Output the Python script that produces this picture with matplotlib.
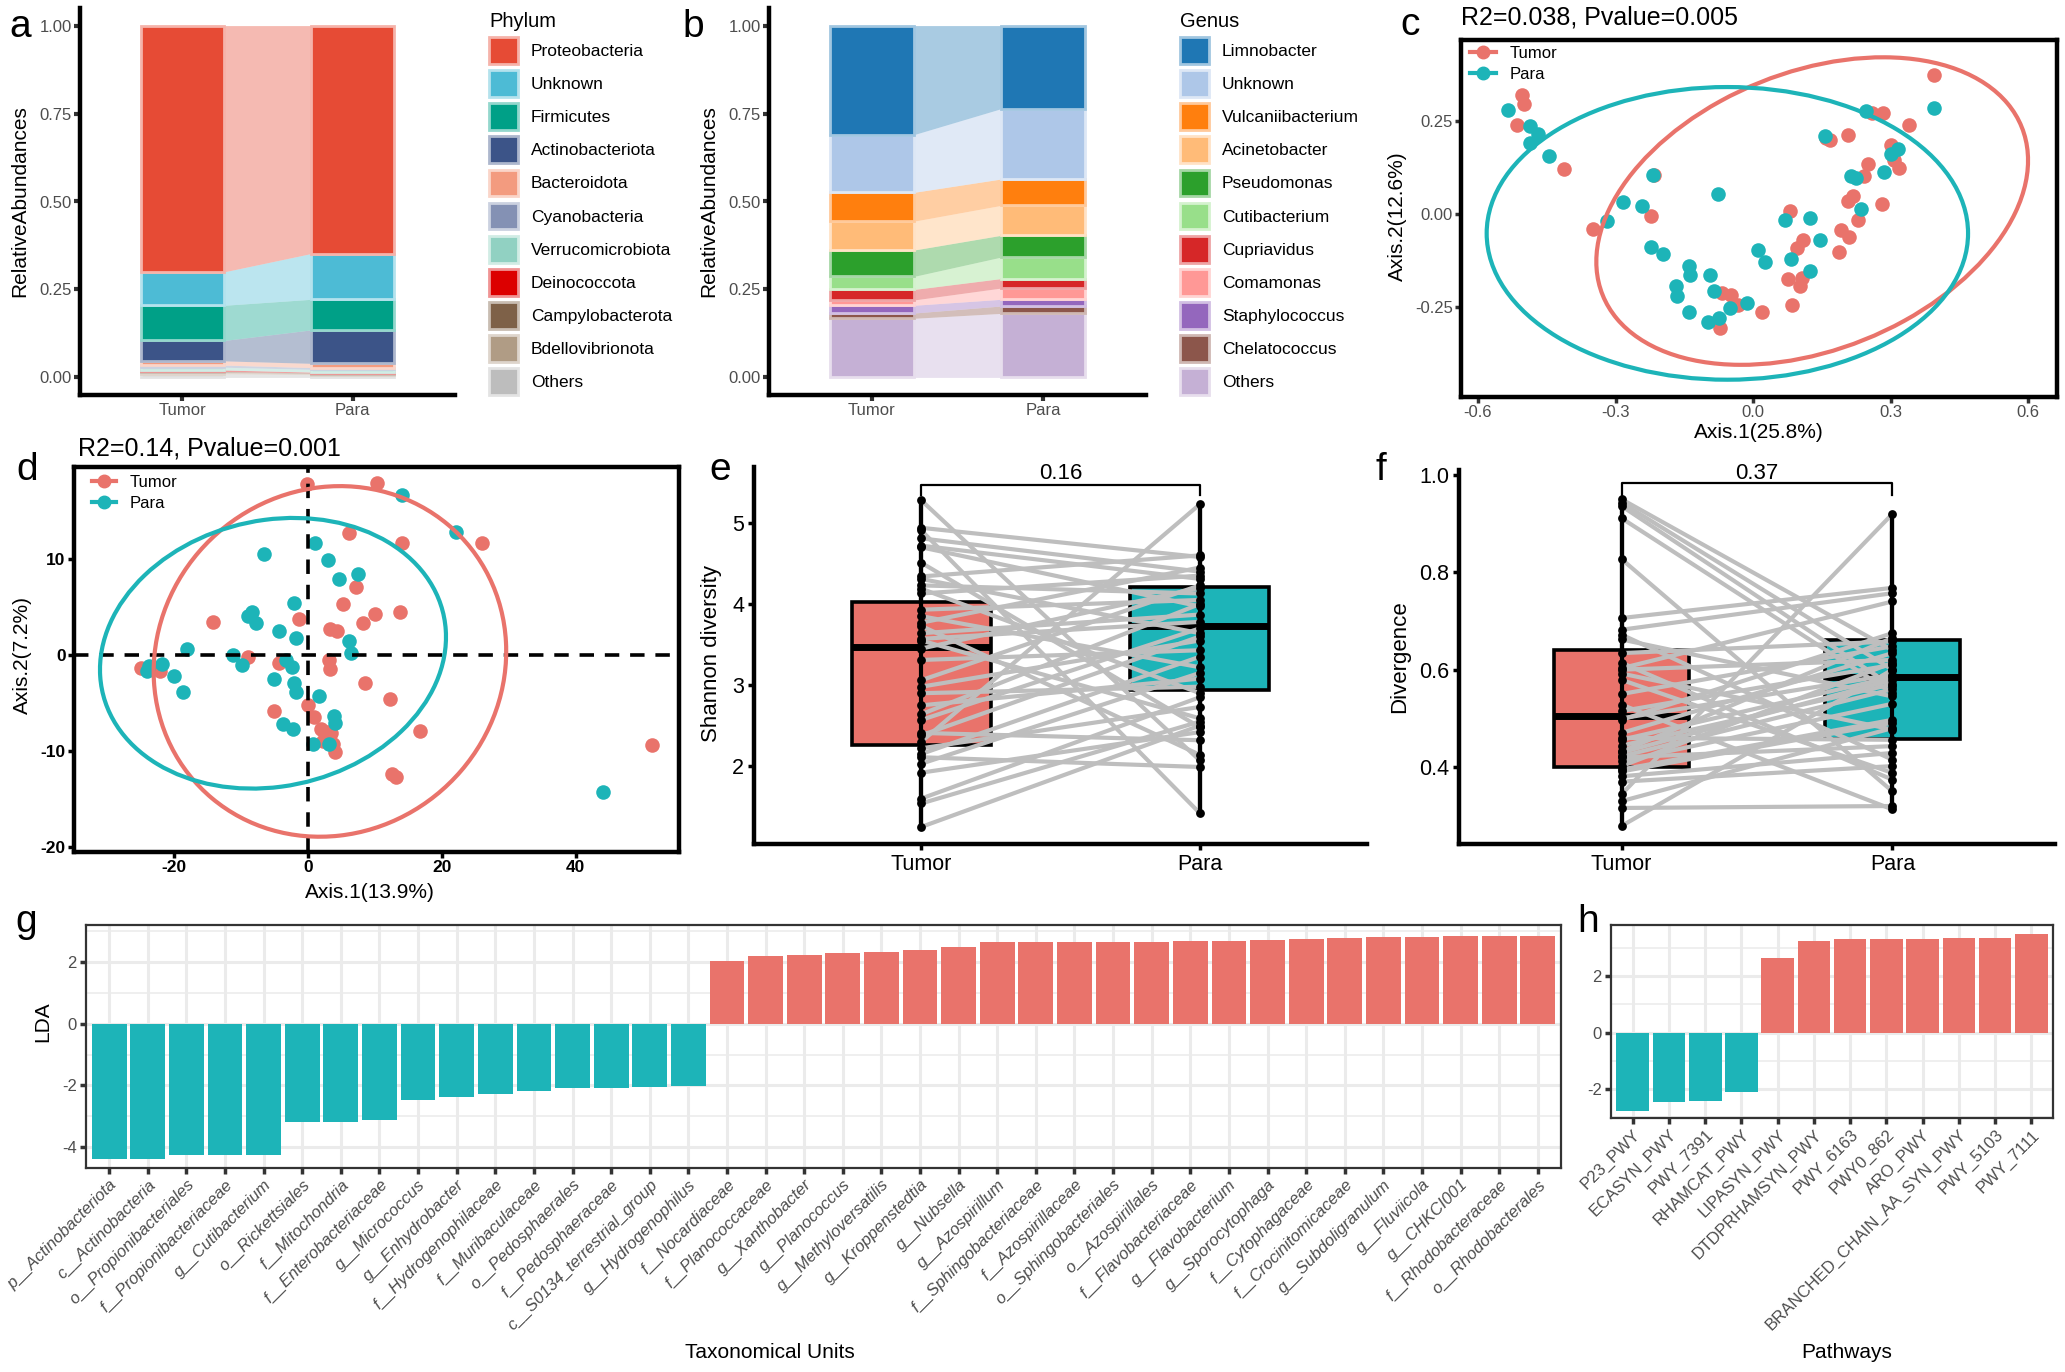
import numpy as np
import matplotlib
matplotlib.use('Agg')
import matplotlib.pyplot as plt
from matplotlib.patches import Ellipse, Patch
from matplotlib.lines import Line2D
from matplotlib.colors import to_rgb

plt.rcParams['font.family'] = ['Liberation Sans', 'DejaVu Sans']
plt.rcParams['axes.unicode_minus'] = False

# ---------------- data ----------------
groups = ['Tumor', 'Para']

phylum_names = ['Proteobacteria', 'Unknown', 'Firmicutes', 'Actinobacteriota', 'Bacteroidota',
                'Cyanobacteria', 'Verrucomicrobiota', 'Deinococcota', 'Campylobacterota',
                'Bdellovibrionota', 'Others']
phylum_tumor = [0.700, 0.095, 0.100, 0.058, 0.012, 0.006, 0.008, 0.004, 0.003, 0.004, 0.010]
phylum_para = [0.648, 0.130, 0.087, 0.095, 0.012, 0.005, 0.008, 0.002, 0.002, 0.003, 0.008]
phylum_colors = ['#E64B35', '#4DBBD5', '#00A087', '#3C5488', '#F39B7F', '#8491B4',
                 '#91D1C2', '#DC0000', '#7E6148', '#B09C85', '#BDBDBD']

genus_names = ['Limnobacter', 'Unknown', 'Vulcaniibacterium', 'Acinetobacter', 'Pseudomonas',
               'Cutibacterium', 'Cupriavidus', 'Comamonas', 'Staphylococcus', 'Chelatococcus', 'Others']
genus_tumor = [0.310, 0.164, 0.082, 0.082, 0.075, 0.037, 0.030, 0.015, 0.022, 0.015, 0.168]
genus_para = [0.236, 0.200, 0.075, 0.085, 0.062, 0.061, 0.027, 0.032, 0.019, 0.021, 0.182]
genus_colors = ['#1F77B4', '#AEC7E8', '#FF7F0E', '#FFBB78', '#2CA02C', '#98DF8A',
                '#D62728', '#FF9896', '#9467BD', '#8C564B', '#C5B0D5']

c_tumor_x = [-0.503, -0.500, -0.514, -0.413, -0.348, -0.216, -0.222, 0.394, 0.259, 0.283,
             0.340, 0.207, 0.167, 0.302, 0.251, 0.241, 0.319, 0.308, 0.219, 0.207,
             0.281, 0.229, 0.191, 0.210, 0.188, 0.081, 0.108, 0.096, 0.076, 0.106,
             0.103, 0.086, 0.019, -0.067, -0.048, -0.033, -0.073, 0.159]
c_tumor_y = [0.321, 0.297, 0.240, 0.121, -0.040, 0.106, -0.004, 0.375, 0.273, 0.272,
             0.240, 0.213, 0.200, 0.185, 0.134, 0.101, 0.124, 0.146, 0.049, 0.034,
             0.028, -0.017, -0.042, -0.062, -0.103, 0.007, -0.071, -0.091, -0.175, -0.172,
             -0.193, -0.244, -0.264, -0.212, -0.217, -0.244, -0.306, 0.204]
c_para_x = [-0.534, -0.486, -0.470, -0.486, -0.445, 0.394, 0.246, 0.157, 0.317, 0.300,
            0.286, 0.214, 0.224, 0.235, -0.219, -0.076, -0.283, -0.243, -0.319, 0.070,
            0.124, 0.146, -0.222, -0.197, 0.010, 0.026, 0.083, 0.124, -0.140, -0.138,
            -0.093, -0.167, -0.165, -0.086, -0.014, -0.050, -0.140, -0.098, -0.074]
c_para_y = [0.280, 0.236, 0.216, 0.191, 0.155, 0.285, 0.276, 0.209, 0.175, 0.162,
            0.113, 0.101, 0.097, 0.013, 0.106, 0.055, 0.032, 0.022, -0.020, -0.015,
            -0.011, -0.071, -0.089, -0.107, -0.098, -0.129, -0.121, -0.154, -0.141, -0.163,
            -0.163, -0.194, -0.221, -0.208, -0.238, -0.253, -0.264, -0.291, -0.280]
# ellipse parameters (Tumor, Para)
c_ell_cx = [0.129, -0.056]
c_ell_cy = [0.008, -0.052]
c_ell_w = [1.03, 1.05]
c_ell_h = [0.714, 0.787]
c_ell_angle = [34.2, 0.0]

d_tumor_x = [-0.1, 10.3, 6.2, 14.0, 26.0, 7.2, 5.3, 10.0, 13.7, 8.2,
             -1.3, -14.1, 3.3, 4.3, -9.0, -4.3, 3.2, 3.3, -24.9, -22.0,
             8.5, 12.3, 0.1, 0.9, -5.0, 1.9, 3.5, 2.3, 4.1, 16.7,
             12.5, 13.2, 51.3, 3.7, 3.0]
d_tumor_y = [17.8, 17.9, 12.7, 11.7, 11.7, 7.1, 5.3, 4.3, 4.5, 3.4,
             3.8, 3.5, 2.7, 2.5, -0.2, -0.8, -0.5, -1.4, -1.3, -1.6,
             -2.9, -4.6, -5.2, -6.4, -5.8, -7.7, -8.1, -8.9, -10.1, -7.9,
             -12.4, -12.7, -9.4, -9.2, -8.0]
d_para_x = [14.1, 22.1, 1.0, -6.5, 3.0, 7.5, 4.7, -2.1, -8.3, -9.0,
            -7.8, -4.3, -1.8, 6.2, 6.5, -18.0, -11.2, -9.8, -3.3, -2.3,
            -23.7, -21.7, -24.0, -20.0, -18.7, -5.1, -2.0, -1.8, 1.7, 3.9,
            4.1, -3.7, -2.2, 0.7, 3.2, 44.0]
d_para_y = [16.7, 12.8, 11.7, 10.5, 9.9, 8.5, 7.9, 5.4, 4.5, 4.1,
            3.4, 2.5, 1.8, 1.5, 0.2, 0.6, 0.0, -1.0, -0.5, -1.2,
            -1.1, -0.9, -1.6, -2.2, -3.8, -2.5, -2.9, -3.8, -4.3, -6.3,
            -7.1, -7.2, -7.7, -9.2, -9.3, -14.2]
d_ell_cx = [3.3, -5.2]
d_ell_cy = [-0.65, 0.2]
d_ell_w = [52.7, 51.8]
d_ell_h = [36.4, 27.9]
d_ell_angle = [4.4, 5.3]

shannon_tumor = [5.28, 4.94, 4.91, 4.81, 4.72, 4.70, 4.51, 4.34, 4.31, 4.23,
                 4.19, 4.13, 3.93, 3.85, 3.77, 3.73, 3.64, 3.57, 3.55, 3.45,
                 3.31, 3.06, 2.98, 2.90, 2.75, 2.64, 2.57, 2.41, 2.38, 2.30,
                 2.22, 2.15, 2.11, 2.03, 1.92, 1.60, 1.54, 1.25]
shannon_para = [2.07, 4.58, 1.42, 4.40, 4.31, 3.97, 2.48, 4.60, 3.64, 4.13,
                2.90, 4.35, 4.05, 3.22, 4.45, 2.14, 3.87, 3.78, 2.59, 4.20,
                3.43, 4.23, 3.55, 2.98, 3.08, 4.00, 3.70, 2.32, 3.60, 5.23,
                2.73, 3.35, 1.99, 3.15, 2.42, 2.85, 2.55, 2.50]
shannon_box_q1 = [2.26, 2.94]
shannon_box_med = [3.47, 3.73]
shannon_box_q3 = [4.03, 4.21]
shannon_p = '0.16'

div_tumor = [0.950, 0.943, 0.936, 0.911, 0.827, 0.706, 0.682, 0.672, 0.662, 0.634,
             0.614, 0.603, 0.600, 0.592, 0.579, 0.550, 0.528, 0.515, 0.500, 0.497,
             0.470, 0.460, 0.456, 0.444, 0.432, 0.430, 0.422, 0.420, 0.412, 0.402,
             0.395, 0.391, 0.381, 0.370, 0.344, 0.330, 0.316, 0.279]
div_para = [0.640, 0.600, 0.566, 0.552, 0.350, 0.768, 0.757, 0.415, 0.545, 0.658,
            0.374, 0.740, 0.620, 0.477, 0.388, 0.648, 0.313, 0.610, 0.590, 0.675,
            0.634, 0.456, 0.585, 0.570, 0.665, 0.579, 0.560, 0.443, 0.530, 0.614,
            0.497, 0.491, 0.429, 0.402, 0.920, 0.480, 0.320, 0.600]
div_box_q1 = [0.400, 0.458]
div_box_med = [0.504, 0.585]
div_box_q3 = [0.641, 0.660]
div_p = '0.37'

g_taxa = ['p__Actinobacteriota', 'c__Actinobacteria', 'o__Propionibacteriales',
          'f__Propionibacteriaceae', 'g__Cutibacterium', 'o__Rickettsiales', 'f__Mitochondria',
          'f__Enterobacteriaceae', 'g__Micrococcus', 'g__Enhydrobacter', 'f__Hydrogenophilaceae',
          'f__Muribaculaceae', 'o__Pedosphaerales', 'f__Pedosphaeraceae',
          'c__S0134_terrestrial_group', 'g__Hydrogenophilus', 'f__Nocardiaceae',
          'f__Planococcaceae', 'g__Xanthobacter', 'g__Planococcus', 'g__Methyloversatilis',
          'g__Kroppenstedtia', 'g__Nubsella', 'g__Azospirillum', 'f__Sphingobacteriaceae',
          'f__Azospirillaceae', 'o__Sphingobacteriales', 'o__Azospirillales',
          'f__Flavobacteriaceae', 'g__Flavobacterium', 'g__Sporocytophaga', 'f__Cytophagaceae',
          'f__Crocinitomicaceae', 'g__Subdoligranulum', 'g__Fluviicola', 'g__CHKCI001',
          'f__Rhodobacteraceae', 'o__Rhodobacterales']
g_lda = [-4.39, -4.39, -4.27, -4.27, -4.27, -3.18, -3.18, -3.12, -2.47, -2.37,
         -2.28, -2.18, -2.10, -2.08, -2.04, -2.01, 2.04, 2.20, 2.24, 2.29,
         2.32, 2.40, 2.49, 2.64, 2.64, 2.66, 2.66, 2.66, 2.67, 2.68,
         2.70, 2.74, 2.78, 2.80, 2.81, 2.85, 2.85, 2.85]

h_paths = ['P23_PWY', 'ECASYN_PWY', 'PWY_7391', 'RHAMCAT_PWY', 'LIPASYN_PWY',
           'DTDPRHAMSYN_PWY', 'PWY_6163', 'PWY0_862', 'ARO_PWY',
           'BRANCHED_CHAIN_AA_SYN_PWY', 'PWY_5103', 'PWY_7111']
h_lda = [-2.78, -2.45, -2.44, -2.12, 2.63, 3.25, 3.30, 3.31, 3.33, 3.34, 3.35, 3.50]

# ---------------- styling ----------------
COL_T = '#E9736B'
COL_P = '#1DB4B8'
GRAY_TXT = '#4D4D4D'

W, H = 2065, 1372
DPI = 100
fig = plt.figure(figsize=(W / DPI, H / DPI), dpi=DPI)
fig.patch.set_facecolor('white')


def add_ax(rect):
    l, t, r, b = rect
    return fig.add_axes([l / W, 1 - b / H, (r - l) / W, (b - t) / H])


def place_ylabel(ax, rect, text, px, py, **kw):
    l, t, r, b = rect
    ax.set_ylabel(text, va='center', ha='center', rotation=90, **kw)
    ax.yaxis.set_label_coords((px - l) / (r - l), (b - py) / (b - t))


def place_xlabel(ax, rect, text, px, py, **kw):
    l, t, r, b = rect
    ax.set_xlabel(text, va='center', ha='center', **kw)
    ax.xaxis.set_label_coords((px - l) / (r - l), (b - py) / (b - t))


def panel_label(s, px, py):
    fig.text(px / W, 1 - py / H, s, fontsize=28, ha='left', va='baseline')


def lighten(c, a=0.42):
    r = np.array(to_rgb(c))
    return tuple(1 - a * (1 - r))


# ---------------- a & b: alluvial ----------------
def alluvial(ax, names, tumor, para, colors, width=0.49):
    x = np.array([1.0, 2.0])
    vals = np.array([tumor, para])
    bottoms = np.zeros(2)
    for i in range(len(names) - 1, -1, -1):
        v = vals[:, i]
        c = colors[i]
        ax.fill_between([1 + width / 2, 2 - width / 2], bottoms, bottoms + v,
                        color=c, alpha=0.38, lw=0, zorder=1)
        ax.bar(x, v, width=width, bottom=bottoms, color=c, edgecolor=lighten(c),
               linewidth=2.0, zorder=2)
        bottoms = bottoms + v
    ax.set_xlim(0.4, 2.6)
    ax.set_ylim(-0.05, 1.05)
    ax.set_xticks([1, 2])
    ax.set_xticklabels(groups)
    ax.set_yticks([0, 0.25, 0.5, 0.75, 1.0])
    ax.set_yticklabels(['0.00', '0.25', '0.50', '0.75', '1.00'])
    for s in ['top', 'right']:
        ax.spines[s].set_visible(False)
    for s in ['left', 'bottom']:
        ax.spines[s].set_linewidth(3.2)
    ax.tick_params(length=4, width=3, color='#333333', labelcolor=GRAY_TXT,
                   labelsize=12, pad=2)


def alluvial_legend(ax, names, colors, title, left_px):
    handles = [Patch(facecolor=c, edgecolor=lighten(c), linewidth=2.0) for c in colors]
    ax.legend(handles, names, title=title, loc='upper left',
              bbox_to_anchor=(left_px / W, 1 - 12 / H), bbox_transform=fig.transFigure,
              frameon=False, fontsize=12.5, title_fontsize=14.5, handlelength=1.67,
              handleheight=2.0, labelspacing=0.36, handletextpad=0.75,
              borderpad=0, borderaxespad=0, alignment='left')


rect_a = (80, 8, 455, 395)
ax_a = add_ax(rect_a)
alluvial(ax_a, phylum_names, phylum_tumor, phylum_para, phylum_colors)
alluvial_legend(ax_a, phylum_names, phylum_colors, 'Phylum', 489)
place_ylabel(ax_a, rect_a, 'RelativeAbundances', 20, 201, fontsize=15)
panel_label('a', 9, 37)

rect_b = (769, 8, 1146, 395)
ax_b = add_ax(rect_b)
alluvial(ax_b, genus_names, genus_tumor, genus_para, genus_colors)
alluvial_legend(ax_b, genus_names, genus_colors, 'Genus', 1180)
place_ylabel(ax_b, rect_b, 'RelativeAbundances', 709, 201, fontsize=15)
panel_label('b', 682, 37)


# ---------------- c & d: PCoA ----------------
def pcoa(ax, tx, ty, px_, py_, ecx, ecy, ew, eh, eang):
    ax.scatter(tx, ty, s=110, color=COL_T, lw=0, zorder=3)
    ax.scatter(px_, py_, s=110, color=COL_P, lw=0, zorder=4)
    cols = [COL_T, COL_P]
    for i in range(2):
        e = Ellipse((ecx[i], ecy[i]), ew[i], eh[i], angle=eang[i], fill=False,
                    edgecolor=cols[i], linewidth=3.0, zorder=6)
        ax.add_patch(e)
    for s in ax.spines.values():
        s.set_linewidth(3.2)
        s.set_color('black')
    handles = [Line2D([], [], color=COL_T, lw=3, marker='o', markersize=9),
               Line2D([], [], color=COL_P, lw=3, marker='o', markersize=9)]
    return handles


rect_c = (1461, 40, 2057, 397)
ax_c = add_ax(rect_c)
h_c = pcoa(ax_c, c_tumor_x, c_tumor_y, c_para_x, c_para_y,
           c_ell_cx, c_ell_cy, c_ell_w, c_ell_h, c_ell_angle)
ax_c.set_xlim(-0.637, 0.663)
ax_c.set_ylim(-0.492, 0.468)
ax_c.set_xticks([-0.6, -0.3, 0.0, 0.3, 0.6])
ax_c.set_xticklabels(['-0.6', '-0.3', '0.0', '0.3', '0.6'])
ax_c.set_yticks([-0.25, 0.0, 0.25])
ax_c.set_yticklabels(['-0.25', '0.00', '0.25'])
ax_c.tick_params(length=4, width=2.5, color='#333333', labelcolor=GRAY_TXT,
                 labelsize=12, pad=2)
ax_c.legend(h_c, groups, loc='upper left', bbox_to_anchor=(9 / 596, 1 - 6 / 357),
            frameon=False, fontsize=12, handlelength=1.55, handletextpad=0.8,
            labelspacing=0.38, borderpad=0, borderaxespad=0)
place_xlabel(ax_c, rect_c, 'Axis.1(25.8%)', 1759, 433, fontsize=15)
place_ylabel(ax_c, rect_c, 'Axis.2(12.6%)', 1397, 216, fontsize=15)
fig.text(1461 / W, 1 - 17 / H, 'R2=0.038, Pvalue=0.005', fontsize=18, ha='left', va='center')
panel_label('c', 1400, 35)

rect_d = (74, 467, 679, 852)
ax_d = add_ax(rect_d)
h_d = pcoa(ax_d, d_tumor_x, d_tumor_y, d_para_x, d_para_y,
           d_ell_cx, d_ell_cy, d_ell_w, d_ell_h, d_ell_angle)
ax_d.axvline(0, color='black', lw=2.6, ls=(0, (4, 3)), zorder=5)
ax_d.axhline(0, color='black', lw=2.6, ls=(0, (4, 3)), zorder=5)
ax_d.set_xlim(-34.9, 55.4)
ax_d.set_ylim(-20.5, 19.6)
ax_d.set_xticks([-20, 0, 20, 40])
ax_d.set_yticks([-20, -10, 0, 10])
ax_d.tick_params(length=4, width=2.5, color='black', labelcolor='black',
                 labelsize=12.5, pad=2)
for lab in ax_d.get_xticklabels() + ax_d.get_yticklabels():
    lab.set_fontweight('bold')
ax_d.legend(h_d, groups, loc='upper left', bbox_to_anchor=(18 / 605, 1 - 8 / 385),
            frameon=False, fontsize=12, handlelength=1.45, handletextpad=0.8,
            labelspacing=0.38, borderpad=0, borderaxespad=0)
place_xlabel(ax_d, rect_d, 'Axis.1(13.9%)', 370, 893, fontsize=15)
place_ylabel(ax_d, rect_d, 'Axis.2(7.2%)', 22, 655, fontsize=15)
fig.text(78 / W, 1 - 449 / H, 'R2=0.14, Pvalue=0.001', fontsize=18, ha='left', va='center')
panel_label('d', 16, 480)


# ---------------- e & f: paired boxplots ----------------
def paired(ax, tumor, para, q1, med, q3, pval, br_top, br_end, txt_y):
    tumor = np.asarray(tumor)
    para = np.asarray(para)
    vals = [tumor, para]
    stats = []
    for i in range(2):
        stats.append(dict(med=med[i], q1=q1[i], q3=q3[i],
                          whislo=vals[i].min(), whishi=vals[i].max(), label=groups[i]))
    bp = ax.bxp(stats, positions=[1, 2], widths=0.5, patch_artist=True,
                showfliers=False, showcaps=False, manage_ticks=False,
                boxprops=dict(edgecolor='black', linewidth=2.6),
                medianprops=dict(color='black', linewidth=5),
                whiskerprops=dict(color='black', linewidth=3), zorder=1)
    for patch, c in zip(bp['boxes'], [COL_T, COL_P]):
        patch.set_facecolor(c)
    n = len(tumor)
    xs = np.vstack([np.ones(n), np.full(n, 2.0)])
    ys = np.vstack([tumor, para])
    ax.plot(xs, ys, color='#BEBEBE', lw=3, zorder=2, solid_capstyle='butt')
    ax.vlines([1, 2], [tumor.min(), para.min()], [tumor.max(), para.max()],
              color='black', lw=3, zorder=3)
    ax.scatter(np.ones(n), tumor, s=40, color='black', zorder=4, lw=0)
    ax.scatter(np.full(n, 2.0), para, s=40, color='black', zorder=4, lw=0)
    ax.plot([1, 1, 2, 2], [br_end, br_top, br_top, br_end], color='black', lw=1.6,
            clip_on=False, zorder=5)
    ax.text(1.5, txt_y, pval, ha='center', va='center', fontsize=16)
    ax.set_xlim(0.4, 2.6)
    ax.set_xticks([1, 2])
    ax.set_xticklabels(groups)
    for s in ['top', 'right']:
        ax.spines[s].set_visible(False)
    for s in ['left', 'bottom']:
        ax.spines[s].set_linewidth(3.2)
    ax.tick_params(length=4, width=2.5, color='black', labelcolor='black',
                   labelsize=15.5, pad=3)


rect_e = (754, 467, 1367, 844)
ax_e = add_ax(rect_e)
paired(ax_e, shannon_tumor, shannon_para, shannon_box_q1, shannon_box_med,
       shannon_box_q3, shannon_p, 5.47, 5.34, 5.61)
ax_e.set_ylim(1.04, 5.69)
ax_e.set_yticks([2, 3, 4, 5])
place_ylabel(ax_e, rect_e, 'Shannon diversity', 711, 653, fontsize=16)
panel_label('e', 709, 480)

rect_f = (1459, 470, 2055, 844)
ax_f = add_ax(rect_f)
paired(ax_f, div_tumor, div_para, div_box_q1, div_box_med, div_box_q3, div_p,
       0.983, 0.959, 1.003)
ax_f.set_ylim(0.242, 1.01)
ax_f.set_yticks([0.4, 0.6, 0.8, 1.0])
ax_f.set_yticklabels(['0.4', '0.6', '0.8', '1.0'])
place_ylabel(ax_f, rect_f, 'Divergence', 1400, 657, fontsize=16)
panel_label('f', 1376, 480)


# ---------------- g & h: LDA bars ----------------
def lda_bars(ax, names, vals, minor, italic):
    vals = np.asarray(vals)
    x = np.arange(1, len(vals) + 1)
    cols = [COL_T if v > 0 else COL_P for v in vals]
    ax.bar(x, vals, width=0.9, color=cols, zorder=2)
    ax.set_xlim(0.4, len(vals) + 0.6)
    ax.set_xticks(x)
    ax.set_xticklabels(names, rotation=45, ha='right', rotation_mode='anchor',
                       fontstyle='italic' if italic else 'normal')
    ax.set_yticks(minor, minor=True)
    ax.set_axisbelow(True)
    ax.grid(True, which='major', color='#EBEBEB', lw=2.2, zorder=0)
    ax.grid(True, which='minor', axis='y', color='#EBEBEB', lw=1.1, zorder=0)
    for s in ax.spines.values():
        s.set_linewidth(1.6)
        s.set_color('#333333')
    ax.tick_params(which='major', length=4.5, width=2.5, color='#333333',
                   labelcolor=GRAY_TXT, labelsize=12, pad=2)
    ax.tick_params(which='minor', length=0)


rect_g = (86, 925, 1561, 1168)
ax_g = add_ax(rect_g)
lda_bars(ax_g, g_taxa, g_lda, [-3, -1, 1, 3], True)
ax_g.set_ylim(-4.68, 3.2)
ax_g.set_yticks([-4, -2, 0, 2])
place_ylabel(ax_g, rect_g, 'LDA', 43, 1022, fontsize=15)
place_xlabel(ax_g, rect_g, 'Taxonomical Units', 770, 1353, fontsize=15)
panel_label('g', 15, 932)

rect_h = (1611, 925, 2053, 1118)
ax_h = add_ax(rect_h)
lda_bars(ax_h, h_paths, h_lda, [-3, -1, 1, 3], False)
ax_h.set_ylim(-3.03, 3.81)
ax_h.set_yticks([-2, 0, 2])
place_xlabel(ax_h, rect_h, 'Pathways', 1847, 1353, fontsize=15)
panel_label('h', 1577, 932)

fig.savefig('out.png', dpi=DPI, facecolor='white')
